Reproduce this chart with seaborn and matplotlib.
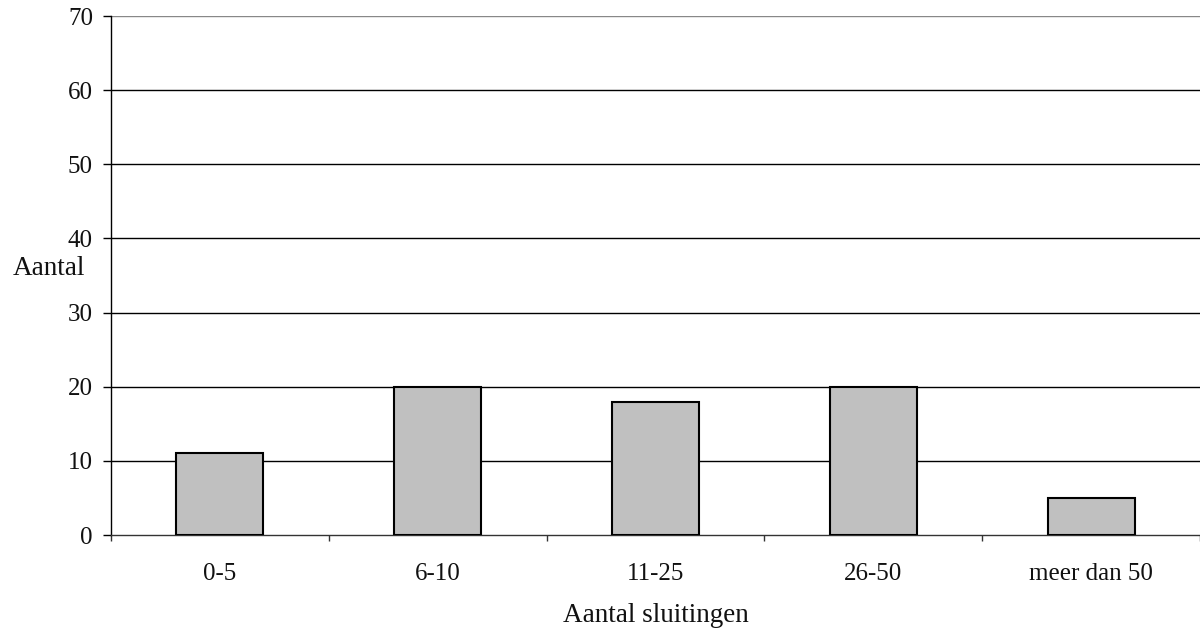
import matplotlib
matplotlib.use("Agg")
import matplotlib.pyplot as plt
import seaborn as sns
import numpy as np
import pandas as pd

categories = ["0-5", "6-10", "11-25", "26-50", "meer dan 50"]
values = [11, 20, 18, 20, 5]
yticks = [0, 10, 20, 30, 40, 50, 60, 70]

sns.set_theme(style="white")
plt.rcParams['font.family'] = ['Liberation Serif', 'DejaVu Serif']

df = pd.DataFrame({"cat": categories, "val": values})

fig = plt.figure(figsize=(12, 6.28), dpi=100)
ax = fig.add_axes([0.0925, 0.148, 0.9075, 0.8265])

sns.barplot(data=df, x="cat", y="val", order=categories, color="#c0c0c0",
            edgecolor="black", linewidth=1.5, width=0.4, saturation=1, ax=ax, zorder=3)

ax.set_ylim(0, 70)
ax.set_xlim(-0.5, len(categories) - 0.5)
ax.set_yticks(yticks)
ax.set_yticklabels([str(v) for v in yticks], fontsize=18, color="#111111")
ax.set_xticks(range(len(categories)))
ax.set_xticklabels(categories, fontsize=18, color="#111111")
ax.set_xticks(np.arange(-0.5, len(categories), 1.0), minor=True)

for v in yticks[1:]:
    ax.axhline(v, color="#888888" if v == 70 else "black", linewidth=1.0, zorder=1)

for s in ["top", "right"]:
    ax.spines[s].set_visible(False)
ax.spines["left"].set_color("black")
ax.spines["left"].set_linewidth(1.0)
ax.spines["bottom"].set_color("#333333")
ax.spines["bottom"].set_linewidth(1.0)

ax.tick_params(axis="y", which="major", direction="out", length=6, width=1, color="black", left=True, pad=7)
ax.tick_params(axis="x", which="major", length=0, pad=20)
ax.tick_params(axis="x", which="minor", direction="out", length=4, width=1, color="#333333", bottom=True)

ax.set_xlabel("Aantal sluitingen", fontsize=19.5, labelpad=13, color="#111111")
ax.set_ylabel("Aantal", fontsize=19.5, rotation=0, color="#111111")
ax.yaxis.label.set_va("center")
ax.yaxis.set_label_coords(-0.0574, 0.514)
ax.grid(False)

fig.savefig("out.png", dpi=100)
